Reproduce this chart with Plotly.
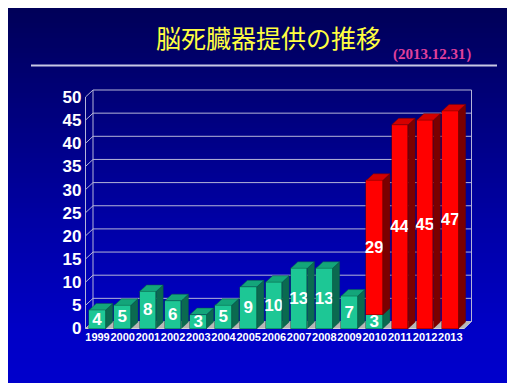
import plotly.graph_objects as go

# ---- data -------------------------------------------------------------
years = ["1999", "2000", "2001", "2002", "2003", "2004", "2005", "2006",
         "2007", "2008", "2009", "2010", "2011", "2012", "2013"]
# donations under the original law (green) and after the 2010 revision (red)
old_law = [4, 5, 8, 6, 3, 5, 9, 10, 13, 13, 7, 3, None, None, None]
revised_law = [None, None, None, None, None, None, None, None, None, None, None,
               29, 44, 45, 47]
y_ticks = [0, 5, 10, 15, 20, 25, 30, 35, 40, 45, 50]

title_text = "脳死臓器提供の推移"
date_text = "(2013.12.31）"

# ---- page geometry (pixels) --------------------------------------------
W, H = 507, 383
X0_PX, X_STEP = 97.5, 25.2      # pixel centre of first category, spacing
Y0_PX, Y_STEP = 328.5, 4.63     # pixel row of value 0, pixels per unit

x_range = [(0 - X0_PX) / X_STEP, (W - X0_PX) / X_STEP]
y_range = [(Y0_PX - H) / Y_STEP, Y0_PX / Y_STEP]

BAR_W = 16.5 / X_STEP
DXB, DYB = 7.0 / X_STEP, 6.5 / Y_STEP      # bar depth offset
DXW, DYW = 7.5 / X_STEP, 7.0 / Y_STEP      # wall depth offset
XL = (85.5 - X0_PX) / X_STEP               # front-left edge of the floor
XR = (464.0 - X0_PX) / X_STEP              # front-right edge of the floor
Y_TOP = y_ticks[-1]

FRAME = "#b4b4d8"
GREEN = dict(front="#1dc795", top="#13a57a", side="#0b6a50", edge="#0b5a44")
RED = dict(front="#ff0000", top="#d40000", side="#7a0000", edge="#700000")


def px_to_paper_y(py):
    return 1 - py / H


shapes = []

# slide background: vertical gradient from navy to blue.  Each band runs
# down to the bottom edge so later bands cover earlier ones without seams.
SLIDE_L, SLIDE_T = 8, 8
stops = [(SLIDE_T, 0x58), (120, 0x80), (230, 0xa8), (330, 0xc6), (H, 0xcc)]


def blue_at(py):
    for (a, ca), (b, cb) in zip(stops[:-1], stops[1:]):
        if a <= py <= b:
            return ca + (cb - ca) * (py - a) / (b - a)
    return stops[-1][1]


n_strips = 75
strip_h = (H - SLIDE_T) / n_strips
for k in range(n_strips):
    top = SLIDE_T + k * strip_h
    b = int(round(blue_at(top + strip_h / 2)))
    shapes.append(dict(type="rect", xref="paper", yref="paper", layer="below",
                       x0=SLIDE_L / W, x1=1, y0=0, y1=px_to_paper_y(top),
                       line=dict(width=0), fillcolor=f"rgb(0,0,{b})"))

# rule under the title
shapes.append(dict(type="line", xref="paper", yref="paper", layer="below",
                   x0=31 / W, x1=497 / W, y0=px_to_paper_y(65.5), y1=px_to_paper_y(65.5),
                   line=dict(color="#c8c8e4", width=2)))

# floor
shapes.append(dict(type="path", layer="below",
                   path=f"M {XL},0 L {XR},0 L {XR + DXW},{DYW} L {XL + DXW},{DYW} Z",
                   fillcolor="#b8b8b8", line=dict(color="#d0d0d0", width=1)))

# back wall grid lines and left wall diagonals
for v in y_ticks:
    shapes.append(dict(type="line", layer="below",
                       x0=XL + DXW, x1=XR + DXW, y0=v + DYW, y1=v + DYW,
                       line=dict(color=FRAME, width=1)))
    shapes.append(dict(type="line", layer="below",
                       x0=XL, x1=XL + DXW, y0=v, y1=v + DYW,
                       line=dict(color=FRAME, width=1)))
# wall edges
for x0, y0, x1, y1 in [(XL, 0, XL, Y_TOP),
                       (XL + DXW, DYW, XL + DXW, Y_TOP + DYW),
                       (XR + DXW, DYW, XR + DXW, Y_TOP + DYW),
                       (XR, 0, XR + DXW, DYW)]:
    shapes.append(dict(type="line", layer="below", x0=x0, y0=y0, x1=x1, y1=y1,
                       line=dict(color=FRAME, width=1)))

# side and top faces of the bars, derived from the stacked values
series = [(old_law, GREEN), (revised_law, RED)]
for i in range(len(years)):
    base = 0
    segs = []
    for vals, col in series:
        v = vals[i]
        if v:
            segs.append((base, base + v, col))
            base += v
    for j, (b0, b1, col) in enumerate(segs):
        xr = i + BAR_W / 2
        xl = i - BAR_W / 2
        shapes.append(dict(type="path", layer="above",
                           path=(f"M {xr},{b0} L {xr + DXB},{b0 + DYB} "
                                 f"L {xr + DXB},{b1 + DYB} L {xr},{b1} Z"),
                           fillcolor=col["side"], line=dict(color=col["edge"], width=0.5)))
        if j == len(segs) - 1:
            shapes.append(dict(type="path", layer="above",
                               path=(f"M {xl},{b1} L {xr},{b1} "
                                     f"L {xr + DXB},{b1 + DYB} L {xl + DXB},{b1 + DYB} Z"),
                               fillcolor=col["top"], line=dict(color=col["edge"], width=0.5)))

label_font = dict(family="Liberation Sans Narrow, Liberation Sans, Arial",
                  size=17, color="white", weight="bold")

fig = go.Figure()
for vals, col in series:
    fig.add_trace(go.Bar(
        x=list(range(len(years))), y=vals, width=BAR_W,
        marker=dict(color=col["front"], line=dict(color=col["edge"], width=0.5)),
        texttemplate="%{y}", textposition="inside", insidetextanchor="middle",
        textangle=0, constraintext="none", insidetextfont=label_font,
        hoverinfo="skip", showlegend=False))

fig.update_layout(
    width=W, height=H, margin=dict(l=0, r=0, t=0, b=0),
    paper_bgcolor="white", plot_bgcolor="rgba(0,0,0,0)",
    barmode="stack", bargap=0, showlegend=False,
    shapes=shapes,
    xaxis=dict(range=x_range, domain=[0, 1], anchor="free",
               position=px_to_paper_y(329), showgrid=False, zeroline=False,
               showline=False, ticks="", tickvals=list(range(len(years))),
               ticktext=years, tickangle=0,
               tickfont=dict(family="Liberation Sans Narrow, Liberation Sans, Arial",
                             size=11, color="white", weight="bold")),
    yaxis=dict(range=y_range, domain=[0, 1], anchor="free",
               position=85.5 / W, showgrid=False, zeroline=False,
               showline=False, ticks="", tickvals=y_ticks, ticklabelstandoff=4,
               tickfont=label_font),
    annotations=[
        dict(xref="paper", yref="paper", x=268 / W, y=px_to_paper_y(37.5),
             text=title_text, showarrow=False, xanchor="center", yanchor="middle",
             font=dict(family="Noto Sans CJK JP", size=25, color="#ffff40")),
        dict(xref="paper", yref="paper", x=437 / W, y=px_to_paper_y(55),
             text=date_text, showarrow=False, xanchor="center", yanchor="middle",
             font=dict(family="Liberation Serif", size=15, color="#e0409c",
                       weight="bold")),
    ],
)

fig.write_html("out.html")
